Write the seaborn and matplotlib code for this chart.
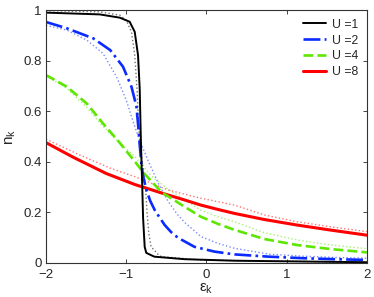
import numpy as np
import pandas as pd
import matplotlib
matplotlib.use("Agg")
import matplotlib.pyplot as plt
import seaborn as sns

# n_k vs eps_k for several U
# solid / dashed curves (in legend)
x_u1 = [-2, -1.33, -1.08, -0.957, -0.894, -0.853, -0.832, -0.82, -0.81, -0.80, -0.79, -0.77, -0.75, -0.65, -0.27, 0.35, 2]
y_u1 = [0.99, 0.983, 0.970, 0.954, 0.914, 0.822, 0.69, 0.52, 0.40, 0.30, 0.18, 0.064, 0.04, 0.025, 0.015, 0.009, 0.003]

x_u2 = [-2, -1.74, -1.41, -1.2, -1.04, -0.935, -0.873, -0.85, -0.83, -0.81, -0.79, -0.75, -0.70, -0.646, -0.58, -0.52, -0.44, -0.356, -0.15, 0.1, 0.35, 0.78, 1.2, 1.6, 2]
y_u2 = [0.953, 0.928, 0.888, 0.842, 0.776, 0.697, 0.62, 0.54, 0.46, 0.39, 0.345, 0.29, 0.245, 0.21, 0.178, 0.15, 0.122, 0.10, 0.064, 0.045, 0.034, 0.025, 0.019, 0.015, 0.012]

x_u4 = [-2, -1.74, -1.49, -1.29, -1.08, -0.89, -0.77, -0.56, -0.27, -0.07, 0.14, 0.35, 0.72, 1.13, 1.55, 2]
y_u4 = [0.743, 0.697, 0.63, 0.552, 0.475, 0.40, 0.352, 0.28, 0.222, 0.183, 0.155, 0.131, 0.095, 0.071, 0.055, 0.042]

x_u8 = [-2, -1.66, -1.25, -0.89, -0.69, -0.48, -0.27, -0.07, 0.14, 0.35, 0.72, 1.13, 1.55, 2]
y_u8 = [0.476, 0.418, 0.354, 0.31, 0.29, 0.269, 0.249, 0.229, 0.212, 0.196, 0.172, 0.150, 0.130, 0.110]

# thin dotted companions (not in legend)
x_d1 = [-2, -1.33, -1.08, -1.0, -0.935, -0.894, -0.866, -0.84, -0.80, -0.76, -0.74, -0.72, -0.69, -0.60, -0.56, -0.07, 2]
y_d1 = [0.998, 0.993, 0.98, 0.96, 0.914, 0.822, 0.69, 0.52, 0.40, 0.30, 0.20, 0.12, 0.064, 0.033, 0.025, 0.012, 0.002]

x_d2 = [-2, -1.74, -1.49, -1.29, -1.12, -1.0, -0.915, -0.85, -0.80, -0.73, -0.6, -0.48, -0.37, -0.27, -0.066, 0.14, 0.35, 0.78, 1.2, 1.6, 2]
y_d2 = [0.94, 0.921, 0.881, 0.829, 0.736, 0.644, 0.56, 0.50, 0.46, 0.407, 0.315, 0.245, 0.195, 0.16, 0.104, 0.078, 0.058, 0.035, 0.027, 0.022, 0.019]

x_d4 = [-2, -1.74, -1.49, -1.29, -1.1, -0.89, -0.69, -0.48, -0.27, -0.07, 0.14, 0.35, 0.72, 1.13, 1.55, 2]
y_d4 = [0.742, 0.69, 0.615, 0.54, 0.48, 0.42, 0.345, 0.292, 0.249, 0.209, 0.183, 0.163, 0.12, 0.091, 0.071, 0.057]

x_d8 = [-2, -1.6, -1.2, -0.89, -0.48, -0.07, 0.35, 0.72, 1.13, 1.55, 2]
y_d8 = [0.49, 0.43, 0.375, 0.341, 0.289, 0.256, 0.229, 0.19, 0.163, 0.143, 0.124]

labels = ["U =1", "U =2", "U =4", "U =8"]
colors = ["black", "#0a2aff", "#5ce600", "#ff0000"]

sns.set_style("ticks")
plt.rcParams["font.family"] = ["Liberation Sans", "DejaVu Sans"]
plt.rcParams["mathtext.fontset"] = "custom"
plt.rcParams["mathtext.rm"] = "Liberation Sans"
plt.rcParams["mathtext.it"] = "Liberation Sans:italic"

fig = plt.figure(figsize=(3.74, 2.97), dpi=100)
ax = fig.add_axes([0.123, 0.1145, 0.858, 0.8515])

# dotted curves first
dotted = [(x_d1, y_d1), (x_d2, y_d2), (x_d4, y_d4), (x_d8, y_d8)]
for (xs, ys), c in zip(dotted, colors):
    sns.lineplot(x=xs, y=ys, ax=ax, color=c, linestyle=":", linewidth=1.0,
                 alpha=0.55, sort=False, estimator=None, label="_nolegend_")

# main curves
main = [(x_u8, y_u8, "-", 2.2), (x_u4, y_u4, "--", 1.9), (x_u2, y_u2, "-.", 1.9), (x_u1, y_u1, "-", 1.4)]
main_colors = colors[::-1]
main_labels = labels[::-1]
for (xs, ys, ls, lw), c, lab in zip(main, main_colors, main_labels):
    sns.lineplot(x=xs, y=ys, ax=ax, color=c, linestyle=ls, linewidth=lw,
                 sort=False, estimator=None, label=lab)

ax.set_xlim(-2, 2)
ax.set_ylim(0, 1)
ax.set_xticks([-2, -1, 0, 1, 2])
ax.set_yticks([0, 0.2, 0.4, 0.6, 0.8, 1])
ax.set_yticklabels(["0", "0.2", "0.4", "0.6", "0.8", "1"])
ax.tick_params(direction="in", top=True, right=True, labelsize=9.5, length=3, width=0.6, pad=3)
ax.tick_params(axis="x", pad=4.5)
for sp in ax.spines.values():
    sp.set_linewidth(0.8)
    sp.set_color("#333333")

ax.set_xlabel(r"$\mathrm{\varepsilon_k}$", fontsize=11, labelpad=0)
ax.set_ylabel(r"$\mathrm{n_k}$", fontsize=11, labelpad=4)

handles, labs = ax.get_legend_handles_labels()
order = [labs.index(l) for l in labels]
ax.legend([handles[i] for i in order], labels, loc="upper right", frameon=False,
          fontsize=8.8, handlelength=1.9, handletextpad=0.5, labelspacing=0.32,
          borderaxespad=0.3)

fig.savefig("out.png", dpi=100)
